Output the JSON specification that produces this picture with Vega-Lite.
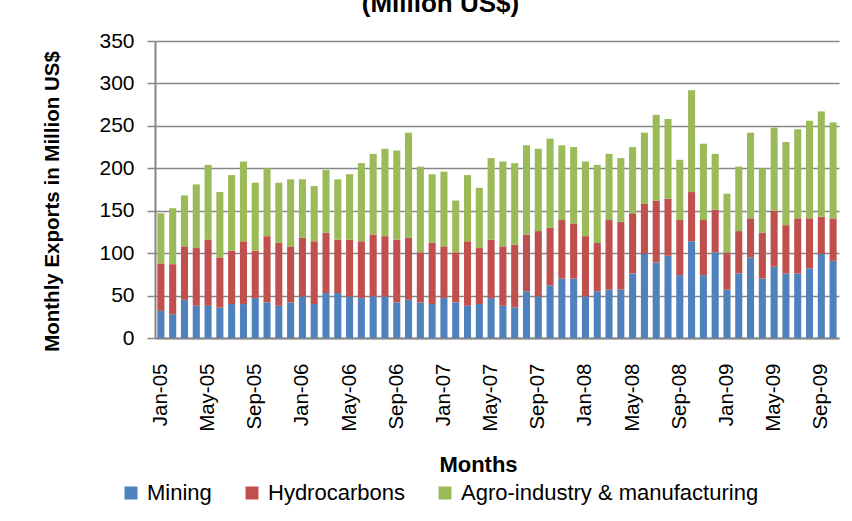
{
  "$schema": "https://vega.github.io/schema/vega-lite/v6.json",
  "width": 684,
  "height": 297,
  "autosize": {"type": "none"},
  "padding": {"left": 155, "top": 41, "right": 13, "bottom": 183},
  "background": "white",
  "title": {
    "text": "(Million US$)",
    "font": "Liberation Sans",
    "fontSize": 26,
    "fontWeight": "bold",
    "color": "#000000",
    "anchor": "middle",
    "frame": "bounds",
    "offset": 13
  },
  "data": {
    "values": [
      {"month": "Jan-05", "Mining": 32, "Hydrocarbons": 56, "Agro-industry & manufacturing": 59},
      {"month": "Feb-05", "Mining": 28, "Hydrocarbons": 59, "Agro-industry & manufacturing": 66},
      {"month": "Mar-05", "Mining": 45, "Hydrocarbons": 63, "Agro-industry & manufacturing": 60},
      {"month": "Apr-05", "Mining": 38, "Hydrocarbons": 68, "Agro-industry & manufacturing": 75},
      {"month": "May-05", "Mining": 38, "Hydrocarbons": 78, "Agro-industry & manufacturing": 88},
      {"month": "Jun-05", "Mining": 36, "Hydrocarbons": 59, "Agro-industry & manufacturing": 77},
      {"month": "Jul-05", "Mining": 40, "Hydrocarbons": 63, "Agro-industry & manufacturing": 89},
      {"month": "Aug-05", "Mining": 40, "Hydrocarbons": 74, "Agro-industry & manufacturing": 94},
      {"month": "Sep-05", "Mining": 47, "Hydrocarbons": 56, "Agro-industry & manufacturing": 80},
      {"month": "Oct-05", "Mining": 42, "Hydrocarbons": 78, "Agro-industry & manufacturing": 80},
      {"month": "Nov-05", "Mining": 38, "Hydrocarbons": 74, "Agro-industry & manufacturing": 71},
      {"month": "Dec-05", "Mining": 42, "Hydrocarbons": 66, "Agro-industry & manufacturing": 79},
      {"month": "Jan-06", "Mining": 49, "Hydrocarbons": 69, "Agro-industry & manufacturing": 69},
      {"month": "Feb-06", "Mining": 40, "Hydrocarbons": 74, "Agro-industry & manufacturing": 65},
      {"month": "Mar-06", "Mining": 53, "Hydrocarbons": 71, "Agro-industry & manufacturing": 74},
      {"month": "Apr-06", "Mining": 53, "Hydrocarbons": 63, "Agro-industry & manufacturing": 71},
      {"month": "May-06", "Mining": 49, "Hydrocarbons": 67, "Agro-industry & manufacturing": 77},
      {"month": "Jun-06", "Mining": 47, "Hydrocarbons": 67, "Agro-industry & manufacturing": 92},
      {"month": "Jul-06", "Mining": 49, "Hydrocarbons": 73, "Agro-industry & manufacturing": 95},
      {"month": "Aug-06", "Mining": 49, "Hydrocarbons": 71, "Agro-industry & manufacturing": 103},
      {"month": "Sep-06", "Mining": 42, "Hydrocarbons": 74, "Agro-industry & manufacturing": 105},
      {"month": "Oct-06", "Mining": 45, "Hydrocarbons": 73, "Agro-industry & manufacturing": 124},
      {"month": "Nov-06", "Mining": 42, "Hydrocarbons": 59, "Agro-industry & manufacturing": 101},
      {"month": "Dec-06", "Mining": 40, "Hydrocarbons": 72, "Agro-industry & manufacturing": 81},
      {"month": "Jan-07", "Mining": 47, "Hydrocarbons": 61, "Agro-industry & manufacturing": 88},
      {"month": "Feb-07", "Mining": 42, "Hydrocarbons": 59, "Agro-industry & manufacturing": 61},
      {"month": "Mar-07", "Mining": 38, "Hydrocarbons": 76, "Agro-industry & manufacturing": 78},
      {"month": "Apr-07", "Mining": 40, "Hydrocarbons": 66, "Agro-industry & manufacturing": 71},
      {"month": "May-07", "Mining": 47, "Hydrocarbons": 69, "Agro-industry & manufacturing": 96},
      {"month": "Jun-07", "Mining": 38, "Hydrocarbons": 70, "Agro-industry & manufacturing": 100},
      {"month": "Jul-07", "Mining": 36, "Hydrocarbons": 74, "Agro-industry & manufacturing": 96},
      {"month": "Aug-07", "Mining": 55, "Hydrocarbons": 67, "Agro-industry & manufacturing": 105},
      {"month": "Sep-07", "Mining": 49, "Hydrocarbons": 77, "Agro-industry & manufacturing": 97},
      {"month": "Oct-07", "Mining": 62, "Hydrocarbons": 68, "Agro-industry & manufacturing": 105},
      {"month": "Nov-07", "Mining": 70, "Hydrocarbons": 69, "Agro-industry & manufacturing": 88},
      {"month": "Dec-07", "Mining": 70, "Hydrocarbons": 65, "Agro-industry & manufacturing": 90},
      {"month": "Jan-08", "Mining": 49, "Hydrocarbons": 71, "Agro-industry & manufacturing": 88},
      {"month": "Feb-08", "Mining": 55, "Hydrocarbons": 57, "Agro-industry & manufacturing": 92},
      {"month": "Mar-08", "Mining": 57, "Hydrocarbons": 82, "Agro-industry & manufacturing": 78},
      {"month": "Apr-08", "Mining": 57, "Hydrocarbons": 80, "Agro-industry & manufacturing": 75},
      {"month": "May-08", "Mining": 76, "Hydrocarbons": 71, "Agro-industry & manufacturing": 78},
      {"month": "Jun-08", "Mining": 99, "Hydrocarbons": 59, "Agro-industry & manufacturing": 84},
      {"month": "Jul-08", "Mining": 89, "Hydrocarbons": 73, "Agro-industry & manufacturing": 101},
      {"month": "Aug-08", "Mining": 97, "Hydrocarbons": 67, "Agro-industry & manufacturing": 94},
      {"month": "Sep-08", "Mining": 74, "Hydrocarbons": 65, "Agro-industry & manufacturing": 71},
      {"month": "Oct-08", "Mining": 114, "Hydrocarbons": 58, "Agro-industry & manufacturing": 120},
      {"month": "Nov-08", "Mining": 74, "Hydrocarbons": 65, "Agro-industry & manufacturing": 90},
      {"month": "Dec-08", "Mining": 101, "Hydrocarbons": 50, "Agro-industry & manufacturing": 66},
      {"month": "Jan-09", "Mining": 57, "Hydrocarbons": 44, "Agro-industry & manufacturing": 69},
      {"month": "Feb-09", "Mining": 76, "Hydrocarbons": 50, "Agro-industry & manufacturing": 76},
      {"month": "Mar-09", "Mining": 95, "Hydrocarbons": 46, "Agro-industry & manufacturing": 101},
      {"month": "Apr-09", "Mining": 70, "Hydrocarbons": 54, "Agro-industry & manufacturing": 76},
      {"month": "May-09", "Mining": 84, "Hydrocarbons": 66, "Agro-industry & manufacturing": 98},
      {"month": "Jun-09", "Mining": 76, "Hydrocarbons": 57, "Agro-industry & manufacturing": 98},
      {"month": "Jul-09", "Mining": 76, "Hydrocarbons": 65, "Agro-industry & manufacturing": 105},
      {"month": "Aug-09", "Mining": 82, "Hydrocarbons": 59, "Agro-industry & manufacturing": 115},
      {"month": "Sep-09", "Mining": 99, "Hydrocarbons": 44, "Agro-industry & manufacturing": 124},
      {"month": "Oct-09", "Mining": 91, "Hydrocarbons": 50, "Agro-industry & manufacturing": 113}
    ]
  },
  "transform": [
    {"fold": ["Mining", "Hydrocarbons", "Agro-industry & manufacturing"], "as": ["series", "value"]}
  ],
  "mark": {"type": "bar"},
  "encoding": {
    "x": {
      "field": "month",
      "type": "nominal",
      "sort": null,
      "scale": {"paddingInner": 0.4, "paddingOuter": 0.2},
      "axis": {
        "values": ["Jan-05", "May-05", "Sep-05", "Jan-06", "May-06", "Sep-06", "Jan-07", "May-07", "Sep-07", "Jan-08", "May-08", "Sep-08", "Jan-09", "May-09", "Sep-09"],
        "labelAngle": -90,
        "labelAlign": "right",
        "labelBaseline": "middle",
        "labelFont": "Liberation Sans",
        "labelFontSize": 20.5,
        "labelColor": "#000000",
        "labelPadding": 25,
        "ticks": false,
        "domainColor": "#868686",
        "domainWidth": 2,
        "grid": false,
        "title": "Months",
        "titleFont": "Liberation Sans",
        "titleFontSize": 22,
        "titleFontWeight": "bold",
        "titleColor": "#000000",
        "titleX": 323,
        "titleY": 133,
        "titleBaseline": "alphabetic",
        "titleAlign": "center"
      }
    },
    "y": {
      "field": "value",
      "type": "quantitative",
      "stack": "zero",
      "scale": {"domain": [0, 350], "nice": false},
      "axis": {
        "values": [0, 50, 100, 150, 200, 250, 300, 350],
        "labelFont": "Liberation Sans",
        "labelFontSize": 21,
        "labelColor": "#000000",
        "labelPadding": 13,
        "tickSize": 8,
        "tickColor": "#868686",
        "tickWidth": 1.5,
        "domainColor": "#868686",
        "domainWidth": 2,
        "grid": true,
        "gridColor": "#868686",
        "gridWidth": 1.5,
        "title": "Monthly Exports in Million US$",
        "titleFont": "Liberation Sans",
        "titleFontSize": 20.5,
        "titleFontWeight": "bold",
        "titleColor": "#000000",
        "titleAngle": -90,
        "titleX": -97,
        "titleY": 160,
        "titleBaseline": "alphabetic",
        "titleAlign": "center"
      }
    },
    "color": {
      "field": "series",
      "type": "nominal",
      "sort": ["Mining", "Hydrocarbons", "Agro-industry & manufacturing"],
      "scale": {
        "domain": ["Mining", "Hydrocarbons", "Agro-industry & manufacturing"],
        "range": ["#4F81BD", "#C0504D", "#9BBB59"]
      },
      "legend": {
        "title": null,
        "orient": "none",
        "legendX": -35,
        "legendY": 441,
        "direction": "horizontal",
        "symbolType": "square",
        "symbolSize": 169,
        "symbolStrokeWidth": 0,
        "symbolOpacity": 1,
        "labelFont": "Liberation Sans",
        "labelFontSize": 22,
        "labelColor": "#000000",
        "labelOffset": 5,
        "labelLimit": 0,
        "columnPadding": 29,
        "padding": 0
      }
    }
  },
  "config": {
    "view": {"stroke": null}
  }
}
